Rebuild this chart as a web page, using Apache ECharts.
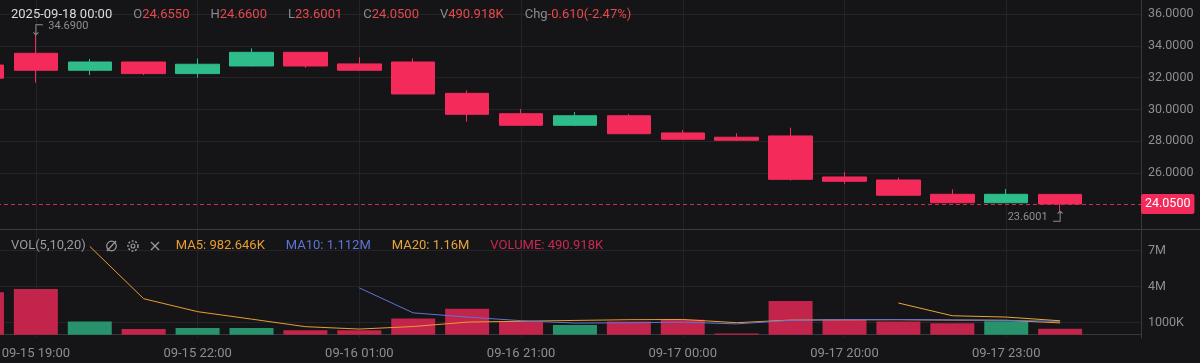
<!DOCTYPE html>
<html><head><meta charset="utf-8">
<script src="https://cdn.jsdelivr.net/npm/echarts@6/dist/echarts.min.js"></script>
<style>html,body{margin:0;padding:0;background:#151518;}#c{width:1200px;height:363px;}</style>
</head><body><div id="c"></div>
<script>
// ---------- data ----------
const datePrefix = '2025-';
const categories = ['09-15 18:00','09-15 19:00','09-15 20:00','09-15 21:00','09-15 22:00','09-15 23:00','09-16 00:00','09-16 01:00','09-16 19:00','09-16 20:00','09-16 21:00','09-16 22:00','09-16 23:00','09-17 00:00','09-17 01:00','09-17 19:00','09-17 20:00','09-17 21:00','09-17 22:00','09-17 23:00','09-18 00:00',''];
const openP  = [32.79,33.53,32.46,32.98,32.25,32.73,33.59,32.86,32.98,31.01,29.73,29.00,29.60,28.52,28.25,28.33,25.75,25.56,24.66,24.13,24.655];
const closeP = [31.96,32.46,32.98,32.25,32.84,33.59,32.73,32.46,30.97,29.69,29.00,29.60,28.47,28.12,28.06,25.60,25.48,24.60,24.13,24.66,24.05];
const lowP   = [31.90,31.68,32.16,32.16,32.00,32.71,32.62,32.46,30.97,29.23,29.00,28.94,28.47,28.10,28.01,25.52,25.31,24.58,24.12,24.12,23.6001];
const highP  = [32.90,34.69,33.17,32.98,33.19,33.84,33.59,33.28,33.21,31.20,30.03,29.84,29.71,28.70,28.50,28.85,26.06,25.71,24.97,24.99,24.66];
const volume = [3530000,3800000,1100000,470000,550000,550000,380000,380000,1360000,2170000,1100000,800000,1090000,1250000,110000,2800000,1270000,1110000,950000,1120000,490918];
const ma5  = [null,null,7360000,3000000,1920000,1300000,670000,470000,680000,1050000,1120000,1190000,1250000,1270000,1000000,1220000,1240000,1250000,1220000,1200000,982646];
const ma10 = [null,null,null,null,null,null,null,3900000,1820000,1470000,1170000,970000,990000,1050000,900000,1200000,1250000,1260000,1230000,1200000,1112000];
const ma20 = [null,null,null,null,null,null,null,null,null,null,null,null,null,null,null,null,null,2640000,1580000,1470000,1160000];
const priceTicks = [26,28,30,32,34,36];
const volTicks = [1000000,4000000,7000000];

// ---------- styles ----------
const UP = '#2EBD8A', DOWN = '#F42A5B';
const VOL_UP = '#27926C', VOL_DOWN = '#C3244B';
const GRID = '#242428', AXIS = '#38383d', LABEL = '#8d8d93';
const FONT = 'Roboto, "Liberation Sans", sans-serif';
const VALRED = '#E5484D';

const fmtVol = v => v >= 1e6 ? String(+(v/1e6).toFixed(3)) + 'M' : (v/1e3).toFixed(3) + 'K';
const fmtVolAxis = v => v >= 2e6 ? (v/1e6) + 'M' : (v/1e3) + 'K';

const n = openP.length;
const last = n - 1;
const candleData = openP.map((o,i)=>[o, closeP[i], lowP[i], highP[i]]);
candleData.push('-');
const volData = volume.map((v,i)=>({value:v, itemStyle:{color: closeP[i] >= openP[i] ? VOL_UP : VOL_DOWN}}));
volData.push('-');
const pad = a => a.concat([null]);

let maxI = 0, minI = 0;
highP.forEach((h,i)=>{ if (h > highP[maxI]) maxI = i; });
lowP.forEach((l,i)=>{ if (l < lowP[minI]) minI = i; });

const chg = closeP[last] - closeP[last-1];
const pct = chg / closeP[last-1] * 100;

const labelIdx = (i) => i % 3 === 1 && i < categories.length - 1;

const chart = echarts.init(document.getElementById('c'), null, {renderer:'canvas'});

const headerText =
  '{d|' + datePrefix + categories[last] + '}{g| }' +
  '{k|O}{v|' + openP[last].toFixed(4) + '}{g| }' +
  '{k|H}{v|' + highP[last].toFixed(4) + '}{g| }' +
  '{k|L}{v|' + lowP[last].toFixed(4) + '}{g| }' +
  '{k|C}{v|' + closeP[last].toFixed(4) + '}{g| }' +
  '{k|V}{v|' + fmtVol(volume[last]) + '}{g| }' +
  '{k|Chg}{v|' + chg.toFixed(3) + '(' + pct.toFixed(2) + '%)}';

const volLegend =
  '{t|VOL(5,10,20)}{gi| }' +
  '{a|MA5: ' + fmtVol(ma5[last]) + '}{g| }' +
  '{b|MA10: ' + fmtVol(ma10[last]) + '}{g| }' +
  '{c|MA20: ' + fmtVol(ma20[last]) + '}{g| }' +
  '{r|VOLUME: ' + fmtVol(volume[last]) + '}';

const MA5C = '#E99D2E', MA10C = '#5E74D6', MA20C = '#E8A53A';

const splitCfg = {show:true, interval:(i)=>labelIdx(i), alignWithLabel:true, lineStyle:{color:GRID, width:1}};

const option = {
  backgroundColor: '#151518',
  animation: false,
  textStyle: {fontFamily: FONT},
  grid: [
    {left: -45, right: 59, top: 0, height: 229, outerBoundsMode:'none', containLabel:false},
    {left: -45, right: 59, top: 229, height: 109, outerBoundsMode:'none', containLabel:false}
  ],
  xAxis: [
    {type:'category', gridIndex:0, data:categories, boundaryGap:true,
     axisLine:{show:false}, axisTick:{show:false}, axisLabel:{show:false}, splitLine:splitCfg},
    {type:'category', gridIndex:1, data:categories, boundaryGap:true,
     axisLine:{show:true, lineStyle:{color:AXIS}}, axisTick:{show:false},
     axisLabel:{interval:(i)=>labelIdx(i), color:LABEL, fontSize:13, margin:9, fontFamily:FONT},
     splitLine:splitCfg}
  ],
  yAxis: [
    {type:'value', gridIndex:0, position:'right', min:22.478, max:36.88,
     axisLine:{show:true, lineStyle:{color:AXIS}}, axisTick:{show:false, customValues:priceTicks},
     axisLabel:{customValues:priceTicks, formatter:v=>v.toFixed(4), color:LABEL, fontSize:12.5, margin:7, fontFamily:FONT},
     splitLine:{show:true, lineStyle:{color:GRID}}},
    {type:'value', gridIndex:1, position:'right', min:-275000, max:8810000,
     axisLine:{show:true, lineStyle:{color:AXIS}}, axisTick:{show:false, customValues:volTicks},
     axisLabel:{customValues:volTicks, formatter:fmtVolAxis, color:LABEL, fontSize:12.5, margin:7, fontFamily:FONT},
     splitLine:{show:true, lineStyle:{color:GRID}}}
  ],
  series: [
    {type:'candlestick', xAxisIndex:0, yAxisIndex:0, data:candleData, barWidth:44, clip:false,
     itemStyle:{color:UP, color0:DOWN, borderColor:UP, borderColor0:DOWN, borderWidth:1},
     markLine:{silent:true, symbol:['none','none'], animation:false,
       lineStyle:{color:'#C9304F', type:[4,3], width:1},
       label:{show:true, position:'end', distance:0, formatter:()=>closeP[last].toFixed(4),
              color:'#fff', backgroundColor:DOWN, padding:[4,4,3,4], borderRadius:2, fontSize:12.5, fontFamily:FONT},
       data:[{yAxis: closeP[last]}]},
     markPoint:{silent:true, animation:false,
       itemStyle:{color:'rgba(0,0,0,0)', borderColor:'#8e8e93', borderWidth:1},
       data:[
         {coord:[maxI, highP[maxI]], symbol:'path://M0,10 L0,0 L7,0 M-2.5,7.5 L0,10 L2.5,7.5',
          symbolSize:[9.5,10], symbolOffset:[2.25,-5],
          label:{show:true, position:'right', distance:5, offset:[0,-3.5], formatter:()=>highP[maxI].toFixed(4), color:'#8e8e93', fontSize:11, fontFamily:FONT}},
         {coord:[minI, lowP[minI]], symbol:'path://M7,0 L7,10 L0,10 M4.5,2.5 L7,0 L9.5,2.5',
          symbolSize:[9.5,10], symbolOffset:[-2.25,5],
          label:{show:true, position:'left', distance:5, offset:[0,1.5], formatter:()=>lowP[minI].toFixed(4), color:'#8e8e93', fontSize:11, fontFamily:FONT}}
       ]}
    },
    {type:'bar', xAxisIndex:1, yAxisIndex:1, data:volData, barWidth:44},
    {type:'line', xAxisIndex:1, yAxisIndex:1, data:pad(ma5), symbol:'none', lineStyle:{color:MA5C, width:1}, connectNulls:false},
    {type:'line', xAxisIndex:1, yAxisIndex:1, data:pad(ma10), symbol:'none', lineStyle:{color:MA10C, width:1}, connectNulls:false},
    {type:'line', xAxisIndex:1, yAxisIndex:1, data:pad(ma20), symbol:'none', lineStyle:{color:MA20C, width:1}, connectNulls:false}
  ],
  graphic: [
    {type:'line', shape:{x1:0, y1:229.5, x2:1200, y2:229.5}, style:{stroke:'#3a3a3f', lineWidth:1}, silent:true, z:10},
    {type:'text', x:11, y:15, silent:true, z:10,
     style:{text:headerText, verticalAlign:'middle', font:'13px ' + FONT,
       rich:{
         d:{fill:'#dcdcde', fontSize:13, fontFamily:FONT},
         g:{width:21},
         k:{fill:'#8a8a8f', fontSize:13, fontFamily:FONT},
         v:{fill:VALRED, fontSize:13, fontFamily:FONT}
       }}},
    {type:'text', x:11, y:246, silent:true, z:10,
     style:{text:volLegend, verticalAlign:'middle', font:'13px ' + FONT,
       rich:{
         t:{fill:'#9a9aa0', fontSize:13, fontFamily:FONT},
         gi:{width:90},
         g:{width:21},
         a:{fill:MA5C, fontSize:13, fontFamily:FONT},
         b:{fill:MA10C, fontSize:13, fontFamily:FONT},
         c:{fill:MA20C, fontSize:13, fontFamily:FONT},
         r:{fill:'#C8294F', fontSize:13, fontFamily:FONT}
       }}},
    {type:'circle', shape:{cx:111.5, cy:246, r:4.8}, style:{fill:'none', stroke:'#9a9aa0', lineWidth:1.2}, silent:true, z:10},
    {type:'line', shape:{x1:107, y1:251, x2:116, y2:241}, style:{stroke:'#9a9aa0', lineWidth:1.2}, silent:true, z:10},
    {type:'circle', shape:{cx:133, cy:246, r:5}, style:{fill:'none', stroke:'#9a9aa0', lineWidth:1.5, lineDash:[2,1.6]}, silent:true, z:10},
    {type:'circle', shape:{cx:133, cy:246, r:2}, style:{fill:'none', stroke:'#9a9aa0', lineWidth:1.1}, silent:true, z:10},
    {type:'line', shape:{x1:151, y1:242, x2:159, y2:250}, style:{stroke:'#9a9aa0', lineWidth:1.2}, silent:true, z:10},
    {type:'line', shape:{x1:159, y1:242, x2:151, y2:250}, style:{stroke:'#9a9aa0', lineWidth:1.2}, silent:true, z:10}
  ]
};
chart.setOption(option);
</script></body></html>
